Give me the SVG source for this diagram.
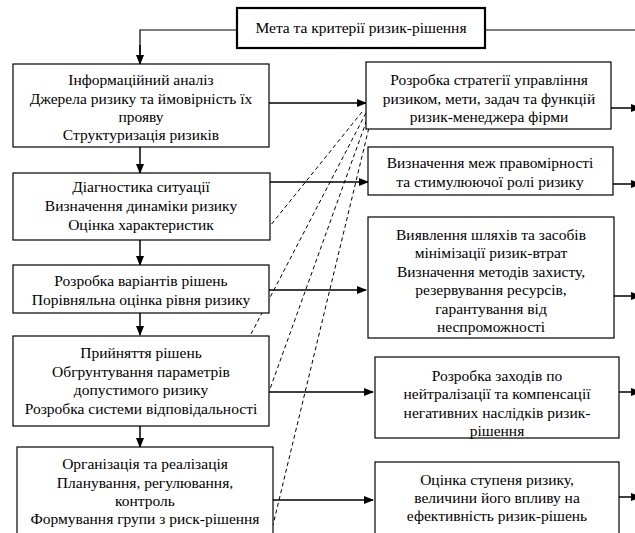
<svg xmlns="http://www.w3.org/2000/svg" width="635" height="533" viewBox="0 0 635 533" font-family="'Liberation Serif', 'Times New Roman', serif">
<defs>
<marker id="ah" markerWidth="10" markerHeight="8" refX="9" refY="4" orient="auto" markerUnits="userSpaceOnUse">
<path d="M0,0 L10,4 L0,8 Z" fill="#000"/>
</marker>
<style>
.box{fill:#fff;stroke:#000;stroke-width:1.2}
.top{fill:#fff;stroke:#000;stroke-width:2.2}
text{font-family:'Liberation Serif','Times New Roman',serif;font-size:15.5px;fill:#000;text-anchor:middle}
.ar{fill:none;stroke:#000;stroke-width:1.5;marker-end:url(#ah)}
.ln{fill:none;stroke:#000;stroke-width:1.2}
.ds{fill:none;stroke:#000;stroke-width:1;stroke-dasharray:4,3}
</style>
</defs>
<rect width="635" height="533" fill="#fff"/>
<g id="connectors">
<path class="ln" d="M237,30 H140 V56"/>
<path class="ar" d="M140,45 V64"/>
<path class="ln" d="M485,30 H635"/>
<path class="ar" d="M140,147 V173"/>
<path class="ar" d="M140,240 V265"/>
<path class="ar" d="M140,313 V335"/>
<path class="ar" d="M140,426 V447"/>
<path class="ar" d="M269,103 H366"/>
<path class="ar" d="M270,182 H368"/>
<path class="ar" d="M269,290 H366"/>
<path class="ar" d="M269,392 H373"/>
<path class="ar" d="M273,500 H373"/>
<path class="ar" d="M611,108 H640"/>
<path class="ar" d="M613,184 H640"/>
<path class="ar" d="M614,296 H640"/>
<path class="ar" d="M619,392 H640"/>
<path class="ar" d="M619,497 H640"/>
<path class="ds" d="M362,112 L270,226"/>
<path class="ds" d="M366,113 L250,336"/>
<path class="ds" d="M369,114 L270,389"/>
<path class="ds" d="M372,115 L273,525"/>
</g>
<g id="goal">
<rect class="top" x="237" y="8" width="248" height="40"/>
<text x="361" y="33">Мета та критерії ризик-рішення</text>
</g>
<g id="n1">
<rect class="box" x="13" y="64" width="256" height="83"/>
<text x="141" y="85">Інформаційний аналіз</text>
<text x="141" y="104">Джерела ризику та ймовірність їх</text>
<text x="141" y="122">прояву</text>
<text x="141" y="140">Структуризація ризиків</text>
</g>
<g id="n2">
<rect class="box" x="13" y="173" width="257" height="67"/>
<text x="141" y="192">Діагностика ситуації</text>
<text x="141" y="211">Визначення динаміки ризику</text>
<text x="141" y="230">Оцінка характеристик</text>
</g>
<g id="n3">
<rect class="box" x="13" y="265" width="256" height="48"/>
<text x="141" y="286">Розробка варіантів рішень</text>
<text x="141" y="305">Порівняльна оцінка рівня ризику</text>
</g>
<g id="n4">
<rect class="box" x="13" y="336" width="256" height="90"/>
<text x="141" y="358">Прийняття рішень</text>
<text x="141" y="377">Обгрунтування параметрів</text>
<text x="141" y="395">допустимого ризику</text>
<text x="141" y="414">Розробка системи відповідальності</text>
</g>
<g id="n5">
<rect class="box" x="17" y="447" width="256" height="100"/>
<text x="145" y="469">Організація та реалізація</text>
<text x="145" y="488">Планування, регулювання,</text>
<text x="145" y="506">контроль</text>
<text x="145" y="524">Формування групи з риск-рішення</text>
</g>
<g id="r1">
<rect class="box" x="366" y="62" width="245" height="67"/>
<text x="489" y="85">Розробка стратегії управління</text>
<text x="489" y="104">ризиком, мети, задач та функцій</text>
<text x="489" y="122">ризик-менеджера фірми</text>
</g>
<g id="r2">
<rect class="box" x="368" y="147" width="245" height="48"/>
<text x="490" y="168">Визначення меж правомірності</text>
<text x="490" y="187">та стимулюючої ролі ризику</text>
</g>
<g id="r3">
<rect class="box" x="368" y="217" width="246" height="121"/>
<text x="491" y="240">Виявлення шляхів та засобів</text>
<text x="491" y="258">мінімізації ризик-втрат</text>
<text x="491" y="277">Визначення методів захисту,</text>
<text x="491" y="295">резервування ресурсів,</text>
<text x="491" y="314">гарантування від</text>
<text x="491" y="332">неспроможності</text>
</g>
<g id="r4">
<rect class="box" x="375" y="357" width="244" height="81"/>
<text x="497" y="381">Розробка заходів по</text>
<text x="497" y="399">нейтралізації та компенсації</text>
<text x="497" y="418">негативних наслідків ризик-</text>
<text x="497" y="436">рішення</text>
</g>
<g id="r5">
<rect class="box" x="375" y="462" width="244" height="90"/>
<text x="497" y="485">Оцінка ступеня ризику,</text>
<text x="497" y="503">величини його впливу на</text>
<text x="497" y="521">ефективність ризик-рішень</text>
</g>
</svg>
